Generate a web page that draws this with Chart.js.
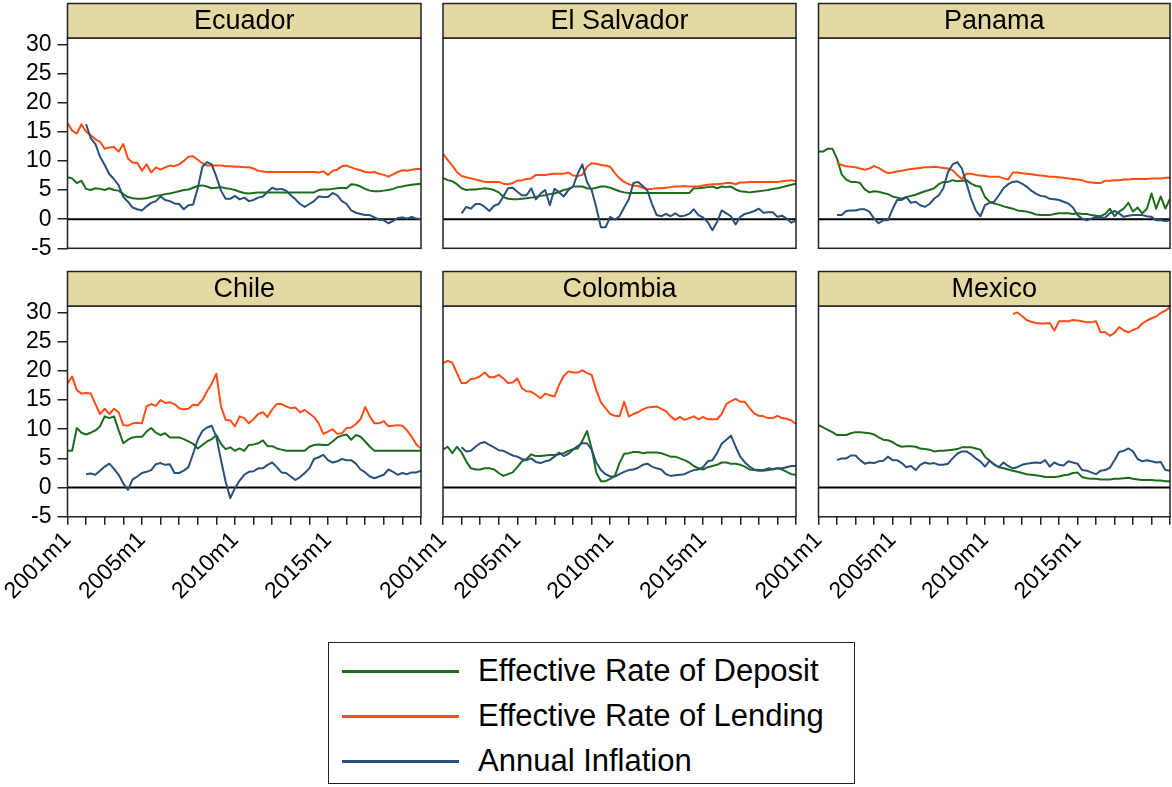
<!DOCTYPE html>
<html>
<head>
<meta charset="utf-8">
<script src="https://cdn.jsdelivr.net/npm/chart.js@4.4.1/dist/chart.umd.min.js"></script>
<style>
  body { margin: 0; width: 1172px; height: 787px; background: #fff; position: relative; overflow: hidden;
         font-family: "Liberation Sans", Arial, sans-serif; }
  canvas { position: absolute; left: 0; top: 0; }
  #legend { position: absolute; left: 328px; top: 642px; width: 527px; height: 142px;
            border: 1.5px solid #222; box-sizing: border-box; }
  .row { position: absolute; left: 0; height: 40px; }
  .row .swatch { position: absolute; left: 13px; top: 19px; width: 117px; height: 3px; }
  .row .txt { position: absolute; left: 149px; top: 2px; font-size: 31px; line-height: 36px; color: #000; white-space: nowrap; }
</style>
</head>
<body>
<div id="legend"></div>
<script>
// values read every 3 months starting 2001m1 (index 0), null = no data
const stepMonths = 3;
const axisMonths = 228;            // 2001m1 .. 2020m1
const yMin = -5, yMax = 31.1;
const yTicks = [-5, 0, 5, 10, 15, 20, 25, 30];
const tickYears = [2001, 2002, 2003, 2004, 2005, 2006, 2007, 2008, 2009, 2010,
                   2011, 2012, 2013, 2014, 2015, 2016, 2017, 2018, 2019, 2020];
const labelYears = [2001, 2005, 2010, 2015];

const countries = ['Ecuador', 'El Salvador', 'Panama', 'Chile', 'Colombia', 'Mexico'];
const seriesNames = ['Effective Rate of Deposit', 'Effective Rate of Lending', 'Annual Inflation'];
const seriesColors = ['#1b6d1b', '#ff4d14', '#29517b'];

const ecuadorDeposit = [
  7.2, 7.0, 6.2, 6.6, 5.2, 5.0, 5.3, 5.2, 5.0, 5.3,
  5.0, 4.9, 4.3, 3.8, 3.6, 3.5, 3.5, 3.6, 3.8, 4.0,
  4.1, 4.3, 4.4, 4.6, 4.8, 5.0, 5.1, 5.4, 5.7, 5.8,
  5.6, 5.3, 5.4, 5.5, 5.3, 5.2, 5.0, 4.7, 4.5, 4.4,
  4.5, 4.6, 4.6, 4.6, 4.6, 4.6, 4.6, 4.6, 4.6, 4.6,
  4.6, 4.6, 4.6, 4.6, 5.0, 5.1, 5.1, 5.2, 5.3, 5.4,
  5.3, 6.0, 5.9, 5.6, 5.2, 4.9, 4.8, 4.8, 4.9, 5.0,
  5.2, 5.5, 5.6, 5.8, 5.9, 6.0, 6.1];
const ecuadorLending = [
  16.5, 15.2, 14.7, 16.3, 15.0, 14.4, 13.7, 13.3, 12.1, 12.3,
  12.4, 11.6, 12.9, 10.4, 9.7, 9.7, 8.3, 9.4, 8.0, 8.9,
  8.5, 8.9, 9.2, 9.1, 9.4, 10.0, 10.7, 10.8, 10.2, 9.6,
  9.2, 9.2, 9.2, 9.2, 9.1, 9.1, 9.0, 9.0, 8.9, 8.9,
  8.7, 8.3, 8.2, 8.1, 8.1, 8.1, 8.1, 8.1, 8.1, 8.1,
  8.1, 8.1, 8.1, 8.1, 8.0, 8.2, 7.6, 8.3, 8.5, 9.1,
  9.2, 8.9, 8.6, 8.4, 8.1, 8.0, 8.1, 7.8, 7.6, 7.3,
  7.7, 8.1, 8.4, 8.3, 8.5, 8.6, 8.6];
const ecuadorInflation = [
  null, null, null, null, 16.3, 13.9, 12.9, 10.7, 9.3, 7.7,
  6.9, 5.8, 3.8, 3.0, 2.0, 1.7, 1.5, 2.2, 2.8, 3.1,
  3.9, 3.3, 3.1, 2.7, 2.6, 1.7, 2.4, 2.5, 5.3, 9.0,
  9.8, 9.4, 7.3, 4.9, 3.5, 3.5, 4.0, 3.4, 3.7, 3.1,
  3.3, 3.7, 3.9, 4.7, 5.4, 5.1, 5.2, 4.9, 4.1, 3.4,
  2.6, 2.1, 2.6, 3.1, 3.9, 3.8, 3.8, 4.5, 4.1, 3.1,
  2.6, 1.5, 1.1, 0.9, 0.7, 0.7, 0.3, -0.1, -0.2, -0.7,
  -0.3, 0.2, 0.3, 0.1, 0.4, 0.1, 0.0];

const salvadorDeposit = [
  7.1, 6.7, 6.5, 6.0, 5.3, 5.0, 5.1, 5.1, 5.2, 5.3,
  5.2, 5.0, 4.6, 3.8, 3.5, 3.4, 3.4, 3.5, 3.6, 3.7,
  3.8, 4.0, 4.1, 4.3, 4.4, 4.7, 5.0, 5.2, 5.6, 5.6,
  5.6, 5.3, 5.2, 5.4, 5.6, 5.6, 5.4, 5.1, 4.8, 4.6,
  4.5, 4.5, 4.5, 4.5, 4.5, 4.5, 4.5, 4.5, 4.5, 4.5,
  4.5, 4.5, 4.5, 4.5, 5.3, 5.3, 5.4, 5.5, 5.6, 5.3,
  5.6, 5.5, 5.6, 5.1, 4.8, 4.7, 4.6, 4.7, 4.8, 4.9,
  5.0, 5.2, 5.3, 5.5, 5.7, 5.9, 6.1];
const salvadorLending = [
  11.2, 10.2, 9.2, 8.1, 7.4, 7.2, 7.0, 6.8, 6.6, 6.4,
  6.4, 6.4, 6.4, 6.1, 6.0, 6.2, 6.6, 6.7, 6.9, 7.0,
  7.6, 7.6, 7.6, 7.7, 7.8, 7.8, 7.8, 8.0, 7.5, 7.4,
  7.6, 9.0, 9.6, 9.5, 9.3, 9.2, 9.0, 7.9, 7.0, 6.4,
  6.0, 5.8, 5.7, 5.4, 5.2, 5.2, 5.3, 5.3, 5.4, 5.5,
  5.6, 5.6, 5.7, 5.6, 5.6, 5.6, 5.8, 5.9, 6.0, 6.0,
  6.1, 6.2, 6.2, 6.0, 6.3, 6.3, 6.4, 6.4, 6.4, 6.4,
  6.4, 6.4, 6.4, 6.5, 6.6, 6.7, 6.5];
const salvadorInflation = [
  null, null, null, null, 1.0, 2.1, 1.8, 2.6, 2.6, 2.1,
  1.4, 2.3, 2.6, 3.9, 5.3, 5.4, 4.7, 4.1, 4.1, 5.3,
  3.4, 4.4, 5.0, 2.4, 5.2, 4.6, 3.9, 5.0, 5.6, 7.8,
  9.4, 6.4, 5.0, 2.0, -1.4, -1.4, 0.4, -0.1, 0.5, 2.0,
  3.4, 6.2, 6.4, 5.7, 4.9, 2.6, 0.7, 0.5, 0.9, 0.5,
  1.0, 0.5, 0.6, 0.9, 1.7, 0.7, 0.3, -0.5, -1.9, -0.5,
  1.5, 1.0, 0.5, -0.9, 0.4, 0.9, 1.1, 1.4, 1.8, 1.1,
  1.2, 1.2, 0.4, 0.6, 0.1, -0.6, -0.2];

const panamaDeposit = [
  11.6, 11.6, 12.1, 12.1, 10.4, 7.7, 6.8, 6.4, 6.4, 6.2,
  5.1, 4.6, 4.8, 4.7, 4.5, 4.3, 3.9, 3.7, 3.5, 3.8,
  4.0, 4.2, 4.5, 4.8, 5.0, 5.3, 6.0, 6.4, 6.4, 6.7,
  6.5, 6.6, 6.7, 6.1, 5.7, 5.6, 3.8, 3.0, 2.7, 2.5,
  2.2, 2.0, 1.8, 1.5, 1.4, 1.3, 1.1, 0.8, 0.7, 0.7,
  0.7, 0.9, 1.0, 1.0, 1.0, 0.9, 1.0, 0.9, 0.9, 0.7,
  0.6, 0.5, 0.9, 1.8, 0.5, 1.3, 1.8, 2.8, 1.3, 2.0,
  1.0, 1.8, 4.4, 1.8, 3.9, 1.8, 3.5];
const panamaLending = [
  null, null, null, null, 9.6, 9.3, 9.1, 9.0, 8.9, 8.7,
  8.5, 8.7, 9.1, 8.8, 8.3, 7.9, 8.0, 8.2, 8.3, 8.5,
  8.6, 8.7, 8.8, 8.9, 8.9, 9.0, 8.9, 8.8, 8.7, 8.4,
  7.6, 6.9, 7.8, 7.8, 7.6, 7.5, 7.4, 7.3, 7.3, 7.3,
  7.0, 6.8, 8.0, 8.0, 7.9, 7.8, 7.7, 7.6, 7.5, 7.4,
  7.3, 7.3, 7.2, 7.1, 7.0, 6.9, 6.8, 6.7, 6.4, 6.3,
  6.2, 6.2, 6.6, 6.6, 6.7, 6.7, 6.8, 6.8, 6.9, 6.9,
  6.9, 6.9, 7.0, 7.0, 7.0, 7.1, 7.1];
const panamaInflation = [
  null, null, null, null, 0.7, 0.7, 1.4, 1.5, 1.5, 1.7,
  1.7, 1.3, 0.1, -0.7, -0.2, -0.2, 1.7, 3.3, 3.3, 3.8,
  2.8, 3.0, 2.4, 2.1, 2.6, 3.5, 4.1, 5.3, 8.1, 9.4,
  9.8, 8.7, 6.1, 3.5, 1.5, 0.5, 2.4, 2.8, 3.0, 4.1,
  5.3, 6.0, 6.4, 6.5, 6.1, 5.6, 4.9, 4.4, 4.0, 3.9,
  3.5, 3.4, 3.3, 3.0, 2.7, 2.0, 0.7, 0.1, -0.2, 0.1,
  0.4, 0.2, 0.3, 1.0, 1.4, 1.0, 0.4, 0.6, 0.7, 0.7,
  0.7, 0.5, 0.4, -0.2, -0.2, -0.3, -0.2];

const chileDeposit = [
  6.3, 6.3, 10.2, 9.4, 9.1, 9.4, 9.8, 10.5, 12.2, 11.9,
  12.2, 9.8, 7.6, 8.2, 8.6, 8.7, 8.7, 9.6, 10.2, 9.4,
  9.0, 9.3, 8.6, 8.6, 8.6, 8.3, 7.9, 7.5, 6.7, 7.3,
  7.9, 8.3, 9.0, 7.5, 6.6, 6.9, 6.3, 6.7, 6.3, 7.3,
  7.4, 7.6, 8.1, 7.1, 7.1, 6.7, 6.5, 6.3, 6.3, 6.3,
  6.3, 6.3, 7.0, 7.3, 7.4, 7.3, 7.3, 7.9, 8.6, 8.9,
  9.1, 8.2, 9.0, 8.7, 7.9, 7.0, 6.3, 6.3, 6.3, 6.3,
  6.3, 6.3, 6.3, 6.3, 6.3, 6.3, 6.3];
const chileLending = [
  17.9, 19.0, 16.7, 16.1, 16.2, 16.1, 14.3, 12.6, 13.5, 12.6,
  13.5, 12.9, 10.7, 10.6, 11.0, 11.1, 11.0, 13.9, 14.3, 14.0,
  15.0, 14.5, 14.6, 14.3, 13.6, 13.4, 13.5, 14.2, 14.1, 15.0,
  16.5, 17.8, 19.5, 13.9, 11.6, 11.5, 10.5, 12.2, 11.9, 11.0,
  11.7, 12.6, 12.9, 12.1, 13.4, 14.3, 14.3, 13.9, 13.6, 13.7,
  12.9, 13.3, 12.7, 12.1, 11.0, 9.2, 9.6, 10.0, 9.2, 9.3,
  10.2, 10.3, 10.9, 11.7, 13.8, 12.2, 11.0, 11.0, 11.4, 10.5,
  10.6, 10.7, 10.6, 9.8, 8.7, 7.4, 6.7];
const chileInflation = [
  null, null, null, null, 2.3, 2.4, 2.2, 2.9, 3.6, 4.1,
  3.2, 2.2, 0.7, -0.4, 1.4, 1.9, 2.5, 2.7, 3.0, 4.0,
  4.2, 3.9, 4.0, 2.5, 2.5, 2.9, 3.5, 5.8, 8.2, 9.7,
  10.3, 10.6, 8.7, 4.7, 1.0, -1.8, -0.1, 1.2, 2.2, 2.7,
  2.8, 3.3, 3.3, 3.9, 4.3, 3.5, 2.6, 2.5, 1.9, 1.3,
  1.8, 2.5, 3.3, 4.9, 5.2, 5.6, 4.7, 4.3, 4.5, 4.9,
  4.7, 4.7, 4.1, 3.1, 2.6, 1.9, 1.6, 1.9, 2.2, 3.1,
  2.7, 2.2, 2.5, 2.3, 2.6, 2.6, 2.9];

const colombiaDeposit = [
  6.5, 7.0, 5.9, 7.0, 6.0, 4.5, 3.3, 3.1, 3.1, 3.3,
  3.3, 3.1, 2.5, 2.0, 2.3, 2.6, 3.5, 4.5, 4.9, 5.7,
  5.4, 5.4, 5.5, 5.6, 5.6, 5.7, 5.9, 6.3, 6.6, 6.7,
  8.0, 9.7, 6.7, 2.6, 1.1, 1.1, 1.5, 2.0, 4.2, 5.8,
  5.9, 6.1, 6.1, 5.9, 6.0, 6.0, 6.0, 5.9, 5.6, 5.3,
  5.3, 5.0, 4.7, 4.3, 3.7, 3.3, 3.1, 3.5, 3.7, 3.9,
  4.3, 4.3, 4.1, 4.1, 3.9, 3.6, 3.1, 3.0, 2.9, 2.9,
  3.0, 3.1, 3.3, 3.1, 2.7, 2.3, 2.2];
const colombiaLending = [
  21.3, 21.7, 21.4, 19.6, 17.9, 17.9, 18.6, 18.7, 19.1, 19.7,
  18.9, 18.9, 19.3, 18.7, 17.9, 18.0, 18.7, 17.0, 16.5, 16.4,
  15.9, 15.3, 16.1, 15.8, 15.6, 17.6, 19.1, 19.9, 19.7, 19.7,
  20.1, 19.6, 19.3, 16.7, 14.6, 13.6, 12.6, 12.3, 12.2, 14.7,
  12.2, 12.6, 12.9, 13.4, 13.7, 13.8, 13.9, 13.5, 13.1, 12.2,
  11.6, 12.1, 11.6, 11.9, 12.2, 11.7, 12.1, 11.7, 11.7, 11.7,
  12.6, 14.3, 14.8, 15.2, 14.7, 14.7, 13.6, 12.7, 12.3, 12.2,
  11.9, 11.9, 12.3, 11.9, 11.8, 11.5, 10.9];
const colombiaInflation = [
  null, null, null, null, 6.9, 6.2, 6.3, 7.0, 7.6, 7.8,
  7.3, 6.9, 6.4, 6.3, 5.9, 5.5, 5.3, 4.9, 4.7, 5.0,
  4.4, 4.2, 4.5, 4.7, 5.3, 6.0, 5.4, 5.8, 6.5, 7.1,
  7.6, 7.6, 6.5, 4.3, 3.0, 2.3, 1.9, 1.9, 2.3, 2.7,
  3.0, 3.1, 3.4, 3.9, 4.1, 3.6, 3.3, 3.1, 2.3, 2.0,
  2.1, 2.2, 2.3, 2.7, 3.0, 3.1, 3.5, 4.5, 4.7, 5.9,
  7.5, 8.2, 8.9, 7.0, 5.3, 4.3, 3.6, 3.1, 3.0, 3.0,
  3.3, 3.2, 3.3, 3.3, 3.5, 3.7, 3.7];

const mexicoDeposit = [
  10.7, 10.3, 9.9, 9.5, 9.0, 9.0, 9.0, 9.3, 9.5, 9.5,
  9.4, 9.3, 9.1, 8.6, 8.2, 8.1, 7.8, 7.3, 7.0, 7.1,
  7.1, 7.0, 6.7, 6.6, 6.5, 6.2, 6.3, 6.3, 6.4, 6.5,
  6.6, 6.9, 6.9, 6.9, 6.7, 6.5, 5.3, 4.6, 4.0, 3.5,
  3.3, 3.1, 2.9, 2.7, 2.5, 2.3, 2.2, 2.1, 2.0, 1.8,
  1.8, 1.8, 1.9, 2.1, 2.2, 2.5, 2.6, 1.8, 1.6, 1.5,
  1.5, 1.4, 1.4, 1.4, 1.5, 1.5, 1.6, 1.7, 1.5, 1.4,
  1.3, 1.3, 1.3, 1.2, 1.2, 1.1, 1.1];
const mexicoLending = [
  null, null, null, null, null, null, null, null, null, null,
  null, null, null, null, null, null, null, null, null, null,
  null, null, null, null, null, null, null, null, null, null,
  null, null, null, null, null, null, null, null, null, null,
  null, null, 29.7, 30.0, 29.4, 28.7, 28.4, 28.2, 28.1, 28.1,
  28.2, 26.9, 28.5, 28.5, 28.5, 28.7, 28.6, 28.5, 28.3, 28.3,
  28.5, 26.6, 26.6, 26.0, 26.5, 27.5, 26.9, 26.6, 27.0, 27.3,
  28.1, 28.6, 29.0, 29.3, 29.9, 30.3, 30.9];
const mexicoInflation = [
  null, null, null, null, 4.7, 5.0, 5.0, 5.5, 5.5, 4.7,
  4.1, 4.3, 4.2, 4.5, 4.6, 5.3, 4.7, 4.7, 4.2, 3.5,
  3.7, 3.0, 3.9, 4.3, 4.1, 4.2, 3.9, 3.9, 4.1, 5.0,
  5.8, 6.2, 6.2, 5.7, 5.0, 4.5, 3.6, 4.6, 3.9, 3.5,
  4.3, 3.7, 3.3, 3.5, 3.9, 4.1, 4.2, 4.3, 4.2, 4.7,
  3.6, 4.3, 3.9, 3.8, 4.5, 4.3, 4.1, 3.0, 2.9, 2.6,
  2.3, 2.9, 3.0, 3.4, 4.7, 6.1, 6.3, 6.7, 6.2, 4.9,
  4.5, 4.7, 4.5, 4.3, 4.4, 3.0, 2.9];

const panelSeries = [
  [ecuadorDeposit, ecuadorLending, ecuadorInflation],
  [salvadorDeposit, salvadorLending, salvadorInflation],
  [panamaDeposit, panamaLending, panamaInflation],
  [chileDeposit, chileLending, chileInflation],
  [colombiaDeposit, colombiaLending, colombiaInflation],
  [mexicoDeposit, mexicoLending, mexicoInflation]
];

// page layout (pixels)
const W = 1172, H = 787;
const colX = [[67.5, 421], [443, 796], [818.5, 1170]];
const rowY = [[38, 248.3], [306, 516.8]];
const headerH = 34.5;
const yAxisW = 67, xAxisH = 110;
const fontFamily = '"Liberation Sans", Arial, sans-serif';

const panelFrame = {
  id: 'panelFrame',
  beforeDatasetsDraw(chart) {
    const { ctx, chartArea: a } = chart;
    const y0 = chart.scales.y.getPixelForValue(0);
    ctx.save();
    ctx.strokeStyle = '#000';
    ctx.lineWidth = 2;
    ctx.beginPath();
    ctx.moveTo(a.left, y0);
    ctx.lineTo(a.right, y0);
    ctx.stroke();
    ctx.restore();
  },
  afterDraw(chart, args, opts) {
    const { ctx, chartArea: a } = chart;
    ctx.save();
    ctx.lineWidth = 1.5;
    ctx.strokeStyle = '#222';
    ctx.strokeRect(a.left, a.top, a.right - a.left, a.bottom - a.top);
    ctx.fillStyle = '#e4d8a3';
    ctx.fillRect(a.left, a.top - headerH, a.right - a.left, headerH);
    ctx.strokeRect(a.left, a.top - headerH, a.right - a.left, headerH);
    ctx.fillStyle = '#000';
    ctx.font = '27px ' + fontFamily;
    ctx.textAlign = 'center';
    ctx.textBaseline = 'middle';
    ctx.fillText(opts.title, (a.left + a.right) / 2, a.top - headerH / 2 + 1);
    ctx.restore();
  }
};

countries.forEach((name, k) => {
  const col = k % 3, row = Math.floor(k / 3);
  const [L, R] = colX[col];
  const [T, B] = rowY[row];
  const showY = col === 0, showX = row === 1;

  const canvas = document.createElement('canvas');
  canvas.width = W;
  canvas.height = H;
  canvas.style.width = W + 'px';
  canvas.style.height = H + 'px';
  document.body.appendChild(canvas);

  const datasets = seriesNames.map((label, j) => ({
    label,
    data: panelSeries[k][j].map((v, i) => ({ x: i * stepMonths, y: v })),
    borderColor: seriesColors[j],
    borderWidth: 2,
    pointRadius: 0,
    tension: 0,
    borderJoinStyle: 'round',
    order: 3 - j
  }));

  new Chart(canvas, {
    type: 'line',
    data: { datasets },
    options: {
      responsive: false,
      animation: false,
      devicePixelRatio: 1,
      events: [],
      layout: {
        padding: {
          left: showY ? L - yAxisW : L,
          right: W - R,
          top: T,
          bottom: showX ? H - B - xAxisH : H - B
        }
      },
      plugins: {
        legend: { display: false },
        tooltip: { enabled: false },
        panelFrame: { title: name }
      },
      scales: {
        x: {
          type: 'linear',
          min: 0,
          max: axisMonths,
          display: showX,
          border: { display: false },
          grid: { display: true, drawOnChartArea: false, drawTicks: true, tickLength: 8, color: '#222', lineWidth: 1.5 },
          afterBuildTicks: s => { s.ticks = tickYears.map(y => ({ value: (y - 2001) * 12 })); },
          afterFit: s => {
            s.height = showX ? xAxisH : 0;
            s.paddingLeft = 0; s.paddingRight = 0;
          },
          ticks: {
            autoSkip: false,
            minRotation: 45,
            maxRotation: 45,
            padding: 2,
            color: '#000',
            font: { size: 23, family: fontFamily },
            callback: v => {
              const yr = 2001 + v / 12;
              return labelYears.includes(yr) ? yr + 'm1' : '';
            }
          }
        },
        y: {
          min: yMin,
          max: yMax,
          display: showY,
          border: { display: false },
          grid: { display: true, drawOnChartArea: false, drawTicks: true, tickLength: 10, color: '#222', lineWidth: 1.5 },
          afterBuildTicks: s => { s.ticks = yTicks.map(v => ({ value: v })); },
          afterFit: s => {
            s.width = showY ? yAxisW : 0;
            s.paddingTop = 0; s.paddingBottom = 0;
          },
          ticks: {
            autoSkip: false,
            padding: 6,
            color: '#000',
            font: { size: 23, family: fontFamily },
            callback: v => String(v)
          }
        }
      }
    },
    plugins: [panelFrame]
  });
});

// legend box
const legend = document.getElementById('legend');
seriesNames.forEach((name, j) => {
  const row = document.createElement('div');
  row.className = 'row';
  row.style.top = (8 + j * 45) + 'px';
  const sw = document.createElement('div');
  sw.className = 'swatch';
  sw.style.background = seriesColors[j];
  const tx = document.createElement('div');
  tx.className = 'txt';
  tx.textContent = name;
  row.appendChild(sw);
  row.appendChild(tx);
  legend.appendChild(row);
});
</script>
</body>
</html>
